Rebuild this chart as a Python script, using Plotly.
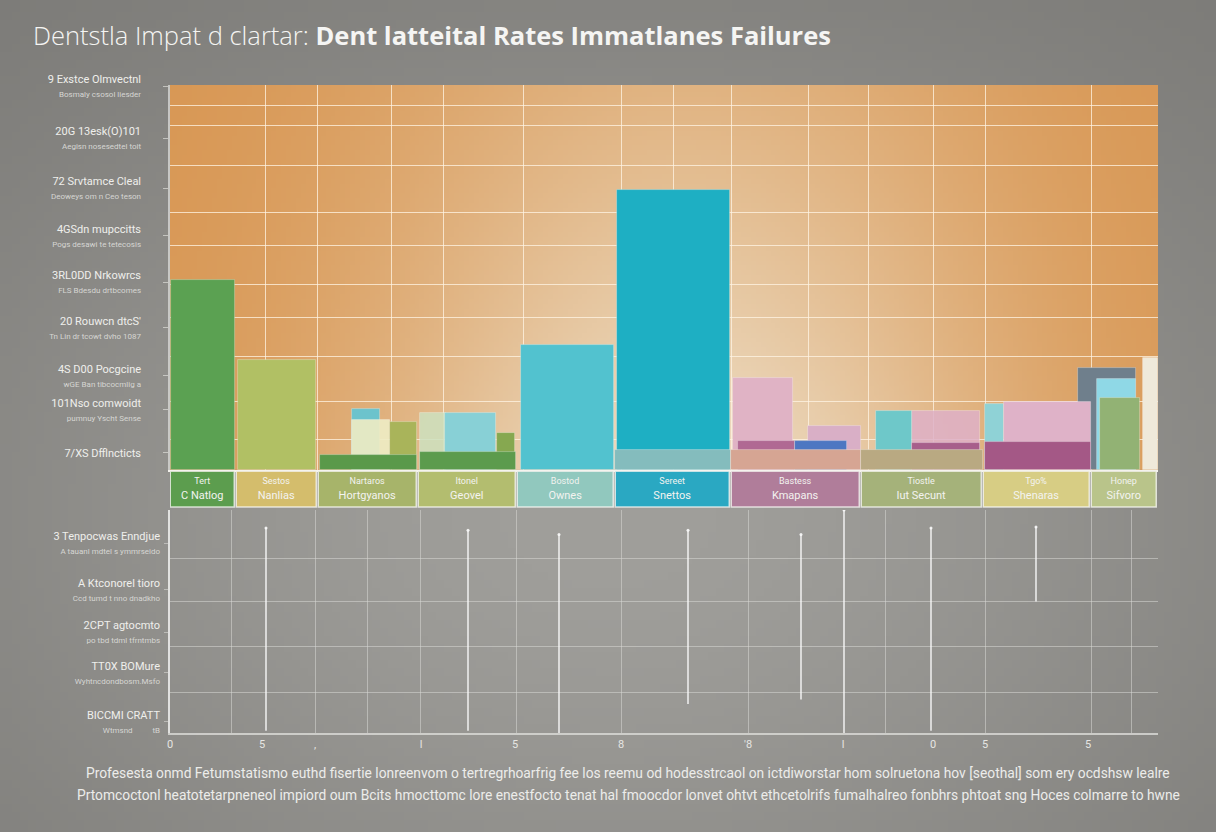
import base64
import struct
import zlib

import numpy as np
import plotly.graph_objects as go

# ---------------- DATA ----------------
TITLE_LIGHT = "Dentstla Impat d clartar: "
TITLE_BOLD = "Dent latteital Rates Immatlanes Failures"

CAT_TOP = ["Tert", "Sestos", "Nartaros", "Itonel", "Bostod",
           "Sereet", "Bastess", "Tiostle", "Tgo%", "Honep"]
CAT_BOTTOM = ["C Natlog", "Nanlias", "Hortgyanos", "Geovel", "Ownes",
              "Snettos", "Kmapans", "Iut Secunt", "Shenaras", "Sifvoro"]

# overlaid bar layers (values per category, 0 = absent)
backdrop_rate = [0, 0, 15.8, 14.8, 0, 0, 23.9, 15.3, 17.0, 26.5]
main_rate = [49.4, 28.6, 13.0, 14.8, 32.5, 72.7, 11.4, 15.3, 17.7, 23.6]
mid_rate = [0, 0, 12.5, 9.6, 0, 0, 7.5, 7.0, 0, 18.7]
accent_rate = [0, 0, 0, 0, 0, 0, 7.5, 0, 0, 29.0]
base_rate = [0, 0, 4.0, 4.7, 0, 5.2, 5.2, 5.2, 7.3, 0]

UP_LABEL_MAIN = ["9 Exstce Olmvectnl", "20G 13esk(O)101", "72 Srvtamce Cleal",
                 "4GSdn mupccitts", "3RL0DD Nrkowrcs", "20 Rouwcn dtcS'",
                 "4S D00 Pocgcine", "101Nso comwoidt", "7/XS Dfflncticts"]
UP_LABEL_SUB = ["Bosmaly csosol liesder", "Aegisn nosesedtel toit",
                "Deoweys om n Ceo teson", "Pogs desawi te tetecosis",
                "FLS Bdesdu drtbcomes", "Tn Lin dr tcowt dvho 1087",
                "wGE Ban tibcocmlig a", "pumnuy Yscht Sense", ""]
UP_LABEL_VAL = [99.7, 86.2, 73.2, 60.8, 48.8, 36.9, 24.4, 15.6, 4.4]

LOW_LABEL_MAIN = ["3 Tenpocwas Enndjue", "A Ktconorel tioro", "2CPT agtocmto",
                  "TT0X BOMure", "BICCMI CRATT"]
LOW_LABEL_SUB = ["A tauanl mdtel s ymmrseido", "Ccd tumd t nno dnadkho",
                 "po tbd tdml tfrntmbs", "Wyhtncdondbosm.Msfo", "Wtmsnd          tB"]
LOW_LABEL_VAL = [4.26, 3.21, 2.26, 1.35, 0.25]

LOW_TICK_VAL = [0, 92, 145, 251, 345, 451, 578, 673, 763, 815, 918]
LOW_TICK_TEXT = ["0", "5", ",", "l", "5", "8", "'8", "l", "0", "5", "5"]

spike_x = [96, 298, 389, 518, 631, 674, 761, 866]
spike_top = [4.6, 4.55, 4.45, 4.55, 4.45, 5.0, 4.6, 4.62]
spike_bottom = [0.05, 0.05, 0.0, 0.65, 0.75, 0.0, 0.05, 2.95]

CAPTION_1 = ("Profesesta onmd Fetumstatismo euthd fisertie lonreenvom o tertregrhoarfrig fee los "
             "reemu od hodesstrcaol on ictdiworstar hom solruetona hov [seothal] som ery ocdshsw lealre")
CAPTION_2 = ("Prtomcoctonl heatotetarpneneol impiord oum Bcits hmocttomc lore enestfocto tenat hal "
             "fmoocdor lonvet ohtvt ethcetolrifs fumalhalreo fonbhrs phtoat sng Hoces colmarre to hwne")

# ---------------- STYLE ----------------
BOX_W = [66, 82, 100, 99, 98, 116, 130, 122, 108, 67]
BOX_COLORS = ["#5c9d4e", "#d4bd6c", "#a7b46a", "#b3bd6f", "#91c8be",
              "#2aa8c2", "#b07d9a", "#a5b27a", "#d7cd84", "#b9c48a"]
EDGES = np.concatenate([[0], np.cumsum(BOX_W)])
TOTAL = float(EDGES[-1])

LAYERS = [
    (backdrop_rate,
     ["#000", "#000", "#6cc3cc", "rgba(205,225,190,0.85)", "#000", "#000",
      "#e0b3c5", "rgba(222,176,200,0.85)", "#8fd2d6", "#6f7f8c"],
     [0, 0, 0.34, 0.02, 0, 0, 0.015, 0.42, 0.02, -0.19],
     [0, 0, 0.62, 0.28, 0, 0, 0.48, 0.975, 0.19, 0.67]),
    (main_rate,
     ["#5ba152", "#b1c064", "rgba(238,236,195,0.92)", "#88d0d6", "#52c2cf",
      "#1eafc3", "#d9afc6", "#6ec8c9", "#dfb2c8", "#8fd8e6"],
     [0.02, 0.02, 0.34, 0.27, 0.04, 0.02, 0.59, 0.12, 0.19, 0.09],
     [0.98, 0.98, 0.72, 0.79, 0.99, 0.99, 1.0, 0.42, 1.0, 0.67]),
    (mid_rate,
     ["#000", "#000", "#a9b45a", "#86a850", "#000", "#000",
      "#b06993", "#a75f8b", "#000", "#92b274"],
     [0, 0, 0.72, 0.80, 0, 0, 0.05, 0.42, 0, 0.13],
     [0, 0, 0.99, 0.98, 0, 0, 0.49, 0.975, 0, 0.73]),
    (accent_rate,
     ["#000"] * 6 + ["#4d77c2", "#000", "#000", "#efe9da"],
     [0] * 6 + [0.49, 0, 0, 0.78],
     [0] * 6 + [0.89, 0, 0, 1.0]),
    (base_rate,
     ["#000", "#000", "#5a994a", "#5c9b4d", "#000", "#84bcbd",
      "#d6a593", "#b9a982", "#a45886", "#000"],
     [0, 0, 0.02, 0.02, 0, 0.0, 0.0, 0.0, 0.02, 0],
     [0, 0, 0.99, 0.99, 0, 1.0, 1.0, 1.0, 1.0, 0]),
]

UP_GRID_X = [95, 147, 221, 273, 353, 451, 503, 561, 638, 698, 763, 815, 921]
UP_GRID_Y = [7.8, 17.7, 29.4, 39.5, 48.3, 58.4, 66.8, 79.2, 89.6, 94.8]
LOW_GRID_X = [61, 145, 197, 250, 346, 451, 578, 715, 815, 921, 961]
LOW_GRID_Y = [0.9, 1.93, 2.94, 3.92]


def png_uri(arr):
    arr = np.clip(arr, 0, 255).astype(np.uint8)
    h, w, _ = arr.shape
    raw = b"".join(b"\x00" + arr[i].tobytes() for i in range(h))

    def chunk(t, d):
        c = struct.pack(">I", len(d)) + t + d
        return c + struct.pack(">I", zlib.crc32(t + d) & 0xFFFFFFFF)

    png = (b"\x89PNG\r\n\x1a\n"
           + chunk(b"IHDR", struct.pack(">IIBBBBB", w, h, 8, 2, 0, 0, 0))
           + chunk(b"IDAT", zlib.compress(raw, 9))
           + chunk(b"IEND", b""))
    return "data:image/png;base64," + base64.b64encode(png).decode()


# page background: soft grey vignette
H, W = 104, 152
Y, X = np.mgrid[0:H, 0:W]
Xn, Yn = X / (W - 1), Y / (H - 1)
wb = np.exp(-(((Xn - 0.5) / 0.6) ** 2 + ((Yn - 0.62) / 0.62) ** 2))
edge = np.array([118, 117, 114])
center = np.array([160, 159, 155])
page_bg = edge + (center - edge) * wb[..., None]

# upper panel: orange -> cream glow
H2, W2 = 80, 200
Y2, X2 = np.mgrid[0:H2, 0:W2]
Xn2, Yn2 = X2 / (W2 - 1), Y2 / (H2 - 1)
wh = np.exp(-((Xn2 - 0.52) / 0.33) ** 2)
wv = 0.42 + 0.58 * Yn2
w2 = np.clip(wh * wv, 0, 1)
orange = np.array([216, 150, 82])
cream = np.array([237, 221, 196])
panel_bg = orange + (cream - orange) * w2[..., None]

fig = go.Figure()

# ---- upper bars ----
for vals, cols, fs, fe in LAYERS:
    xs, ws, ys, cs = [], [], [], []
    for i, v in enumerate(vals):
        if v <= 0:
            continue
        bw = BOX_W[i]
        xs.append(EDGES[i] + (fs[i] + fe[i]) / 2 * bw)
        ws.append((fe[i] - fs[i]) * bw)
        ys.append(v)
        cs.append(cols[i])
    fig.add_trace(go.Bar(
        x=xs, y=ys, width=ws, marker=dict(color=cs, line=dict(width=0.8, color="rgba(255,255,255,0.35)")),
        xaxis="x", yaxis="y", showlegend=False, hoverinfo="y"))

# ---- category boxes ----
centers = [(EDGES[i] + EDGES[i + 1]) / 2 for i in range(len(BOX_W))]
box_text = [f"<span style='font-size:9px'>{t}</span><br>{b}" for t, b in zip(CAT_TOP, CAT_BOTTOM)]
fig.add_trace(go.Bar(
    x=centers, y=[1] * len(centers), width=[w - 2 for w in BOX_W],
    marker=dict(color=BOX_COLORS, line=dict(width=1.5, color="rgba(250,250,245,0.75)")),
    text=box_text, textposition="inside", insidetextanchor="middle",
    textfont=dict(size=11, color="#f3f3f0", family="Roboto"),
    xaxis="x2", yaxis="y2", showlegend=False, hoverinfo="skip"))

# ---- lower spikes ----
sx, sy = [], []
for x, t, b in zip(spike_x, spike_top, spike_bottom):
    sx += [x, x, None]
    sy += [b, t, None]
fig.add_trace(go.Scatter(x=sx, y=sy, mode="lines", line=dict(color="rgba(250,250,250,0.85)", width=1.6),
                         xaxis="x3", yaxis="y3", showlegend=False, hoverinfo="skip"))
fig.add_trace(go.Scatter(x=spike_x, y=spike_top, mode="markers",
                         marker=dict(size=3, color="rgba(250,250,250,0.9)"),
                         xaxis="x3", yaxis="y3", showlegend=False, hoverinfo="skip"))


def two_line(main, sub, size_main, size_sub):
    if sub:
        return (f"<span style='font-size:{size_main}px'>{main}</span><br>"
                f"<span style='font-size:{size_sub}px;fill:#d6d6d3'>{sub}</span>")
    return f"<span style='font-size:{size_main}px'>{main}</span>"


up_text = [two_line(m, s, 11, 8) for m, s in zip(UP_LABEL_MAIN, UP_LABEL_SUB)]
low_text = [two_line(m, s, 11, 8) for m, s in zip(LOW_LABEL_MAIN, LOW_LABEL_SUB)]

grid_up = "rgba(255,244,228,0.75)"
grid_low = "rgba(215,215,212,0.55)"

fig.update_layout(
    width=1216, height=832,
    margin=dict(l=170, r=58, t=85, b=99),
    paper_bgcolor="#8c8b88", plot_bgcolor="rgba(0,0,0,0)",
    barmode="overlay", bargap=0,
    font=dict(family="Roboto", color="#ececea"),
    title=dict(
        text=f"<span style='font-weight:300'>{TITLE_LIGHT}</span><b>{TITLE_BOLD}</b>",
        x=33 / 1216, xanchor="left", xref="container",
        y=1 - 36 / 832, yanchor="middle", yref="container",
        font=dict(family="Open Sans", size=25.5, color="#f5f5f3")),
    xaxis=dict(domain=[0, 1], range=[0, TOTAL], anchor="y",
               tickvals=UP_GRID_X, showticklabels=False, ticks="",
               showgrid=True, gridcolor=grid_up, gridwidth=1.3, zeroline=False,
               showline=True, linecolor="rgba(250,248,242,0.95)", linewidth=2),
    yaxis=dict(domain=[0.406, 1], range=[0, 100], anchor="x",
               tickvals=UP_LABEL_VAL, ticktext=up_text, showgrid=False, zeroline=False,
               ticks="outside", ticklen=5, tickcolor="rgba(235,235,230,0.6)",
               ticklabelstandoff=20,
               tickfont=dict(size=11, color="#efefec"),
               showline=True, linecolor="rgba(215,215,212,0.8)", linewidth=1.5,
               minor=dict(tickvals=UP_GRID_Y, showgrid=True, gridcolor=grid_up, gridwidth=1.3, ticks="")),
    xaxis2=dict(domain=[0, 1], range=[0, TOTAL], anchor="y2", visible=False),
    yaxis2=dict(domain=[0.347, 0.403], range=[0, 1], anchor="x2", visible=False),
    xaxis3=dict(domain=[0, 1], range=[0, TOTAL], anchor="y3",
                tickvals=LOW_TICK_VAL, ticktext=LOW_TICK_TEXT, showgrid=False, zeroline=False,
                tickfont=dict(size=11, color="#e6e6e3"), ticks="",
                showline=True, linecolor="rgba(220,220,216,0.8)", linewidth=1.5,
                minor=dict(tickvals=LOW_GRID_X, showgrid=True, gridcolor=grid_low, gridwidth=1, ticks="")),
    yaxis3=dict(domain=[0, 0.344], range=[0, 5], anchor="x3",
                tickvals=LOW_LABEL_VAL, ticktext=low_text, showgrid=False, zeroline=False,
                ticks="outside", ticklen=4, tickcolor="rgba(230,230,226,0.5)",
                ticklabelstandoff=2,
                tickfont=dict(size=11, color="#efefec"),
                showline=True, linecolor="rgba(240,240,238,0.85)", linewidth=1.5,
                minor=dict(tickvals=LOW_GRID_Y, showgrid=True, gridcolor=grid_low, gridwidth=1, ticks="")),
    images=[
        dict(source=png_uri(page_bg), xref="paper", yref="paper",
             x=-170 / 988, y=733 / 648, sizex=1216 / 988, sizey=832 / 648,
             xanchor="left", yanchor="top", sizing="stretch", layer="below"),
        dict(source=png_uri(panel_bg), xref="paper", yref="paper",
             x=0, y=1, sizex=1, sizey=1 - 0.406,
             xanchor="left", yanchor="top", sizing="stretch", layer="below"),
    ],
    annotations=[
        dict(text=CAPTION_1, xref="paper", yref="paper", x=(628 - 170) / 988, y=(733 - 773) / 648,
             showarrow=False, xanchor="center", yanchor="middle",
             font=dict(family="Roboto", size=13.8, color="#ececea")),
        dict(text=CAPTION_2, xref="paper", yref="paper", x=(628 - 170) / 988, y=(733 - 795) / 648,
             showarrow=False, xanchor="center", yanchor="middle",
             font=dict(family="Roboto", size=13.8, color="#ececea")),
    ],
)

fig.write_html(
    "out.html",
    config={"displayModeBar": False},
    post_script="document.body.style.margin='0';document.body.style.padding='0';"
                "document.body.style.background='#8c8b88';",
)
